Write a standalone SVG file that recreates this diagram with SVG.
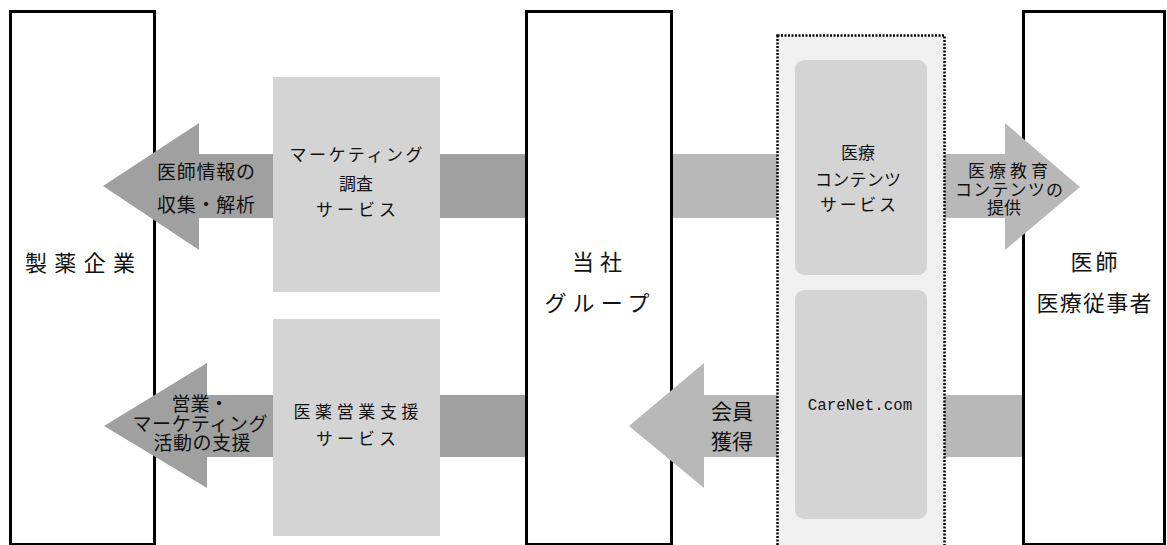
<svg xmlns="http://www.w3.org/2000/svg" width="1167" height="545" viewBox="0 0 1167 545">
<style>
.ent{fill:#fff;stroke:#000;stroke-width:3}
.svc{fill:#d4d4d4}
.ad{fill:#a0a0a0}
.al{fill:#b8b8b8}
text{font-family:"Liberation Serif","Noto Sans CJK JP",serif;fill:#111;text-anchor:middle}
.big{font-size:22px}
.mid{font-size:19px}
.sm{font-size:17px}
.mem{font-size:21px}
.mono{font-family:"Liberation Mono","Noto Sans CJK JP",monospace;font-size:15.8px}
</style>
<rect width="1167" height="545" fill="#fff"/>
<g id="pharma"><rect class="ent" x="10.5" y="11.5" width="144" height="533"/></g>
<g id="group"><rect class="ent" x="526.5" y="11.5" width="145" height="533"/></g>
<g id="doctors"><rect class="ent" x="1023.5" y="11.5" width="141" height="533"/></g>
<g id="connectors">
<polygon class="ad" points="103,186 199,123 199,154 525,154 525,218 199,218 199,250"/>
<polygon class="ad" points="104,426 207,363 207,395 525,395 525,457 207,457 207,488"/>
<polygon class="al" points="673,154 1005,154 1005,123 1080,187 1005,250 1005,218 673,218"/>
<polygon class="al" points="1022,395 704,395 704,363 629,426 704,488 704,457 1022,457"/>
</g>
<g id="platform"><rect x="777.5" y="35.5" width="167" height="520" fill="#f0f0f0" stroke="#000" stroke-width="2.5" stroke-dasharray="2,1.5"/></g>
<g id="marketing"><rect class="svc" x="273" y="77" width="167" height="215"/>
<text class="sm" x="356" y="161" textLength="133" lengthAdjust="spacing">マーケティング</text>
<text class="sm" x="356" y="190">調査</text>
<text class="sm" x="356" y="216" textLength="80" lengthAdjust="spacing">サービス</text></g>
<g id="sales"><rect class="svc" x="273" y="319" width="167" height="217"/>
<text class="sm" x="356" y="418" textLength="125" lengthAdjust="spacing">医薬営業支援</text>
<text class="sm" x="356" y="445" textLength="80" lengthAdjust="spacing">サービス</text></g>
<g id="contents"><rect class="svc" x="795" y="60" width="132" height="215" rx="9"/>
<text class="sm" x="858" y="159">医療</text>
<text class="sm" x="858" y="186" textLength="86" lengthAdjust="spacing">コンテンツ</text>
<text class="sm" x="858" y="211" textLength="76" lengthAdjust="spacing">サービス</text></g>
<g id="carenet"><rect class="svc" x="795" y="290" width="132" height="229" rx="9"/>
<text class="mono" x="860" y="410">CareNet.com</text></g>
<text class="big" x="80" y="271" textLength="110" lengthAdjust="spacing">製薬企業</text>
<text class="big" x="597" y="270" textLength="50" lengthAdjust="spacing">当社</text>
<text class="big" x="597" y="311" textLength="105" lengthAdjust="spacing">グループ</text>
<text class="big" x="1094" y="270" textLength="47" lengthAdjust="spacing">医師</text>
<text class="big" x="1094" y="311" textLength="115" lengthAdjust="spacing">医療従事者</text>
<text class="mid" x="206" y="179" textLength="98" lengthAdjust="spacing">医師情報の</text>
<text class="mid" x="206" y="212" textLength="98" lengthAdjust="spacing">収集・解析</text>
<text class="mid" x="200" y="411">営業・</text>
<text class="mid" x="200" y="431" textLength="135" lengthAdjust="spacing">マーケティング</text>
<text class="mid" x="202" y="450" textLength="97" lengthAdjust="spacing">活動の支援</text>
<text class="mem" x="732" y="419">会員</text>
<text class="mem" x="732" y="449">獲得</text>
<text class="sm" x="1008" y="177" textLength="80" lengthAdjust="spacing">医療教育</text>
<text class="sm" x="1009" y="196" textLength="108" lengthAdjust="spacing">コンテンツの</text>
<text class="sm" x="1004" y="214">提供</text>
</svg>
